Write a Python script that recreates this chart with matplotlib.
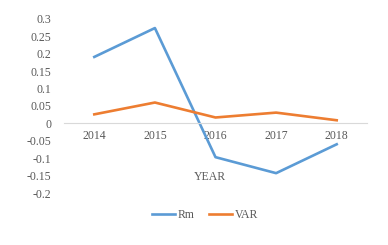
import matplotlib
matplotlib.use("Agg")
import matplotlib.pyplot as plt
import numpy as np

years = ["2014", "2015", "2016", "2017", "2018"]
rm = [0.191, 0.274, -0.097, -0.143, -0.060]
var = [0.026, 0.060, 0.017, 0.031, 0.009]
yticks = [0.3, 0.25, 0.2, 0.15, 0.1, 0.05, 0, -0.05, -0.1, -0.15, -0.2]

plt.rcParams['font.family'] = ['Liberation Serif', 'DejaVu Serif']
W, H = 388, 245
fig = plt.figure(figsize=(W/100, H/100), dpi=100)
ax = fig.add_axes([64/W, 1-193/H, (367-64)/W, (193-19)/H])

for s in ['top', 'right', 'left']:
    ax.spines[s].set_visible(False)
ax.spines['bottom'].set_position(('data', 0))
ax.spines['bottom'].set_color('#D9D9D9')

x = np.arange(len(years))
l1, = ax.plot(x, rm, color='#5B9BD5', lw=1.9, label='Rm')
l2, = ax.plot(x, var, color='#ED7D31', lw=1.9, label='VAR')

ax.set_xlim(-0.5, len(years)-0.5)
ax.set_ylim(-0.2, 0.3)
ax.set_yticks(yticks)
ax.set_yticklabels([f"{t:g}" for t in yticks])
ax.set_xticks(x)
ax.set_xticklabels(years)
ax.tick_params(axis='both', length=0, labelsize=8.5, labelcolor='#595959')
ax.tick_params(axis='y', pad=9)
ax.tick_params(axis='x', pad=5)

fig.text(210/W, 1-177/H, 'YEAR', ha='center', va='center', fontsize=8.5, color='#595959')
fig.legend(handles=[l1, l2], loc='center', bbox_to_anchor=(205/W, 1-215/H), ncol=2,
           frameon=False, fontsize=8.5, handlelength=2.0, columnspacing=1.2, handletextpad=0.2,
           labelcolor='#595959')

fig.savefig('out.png', dpi=100)
